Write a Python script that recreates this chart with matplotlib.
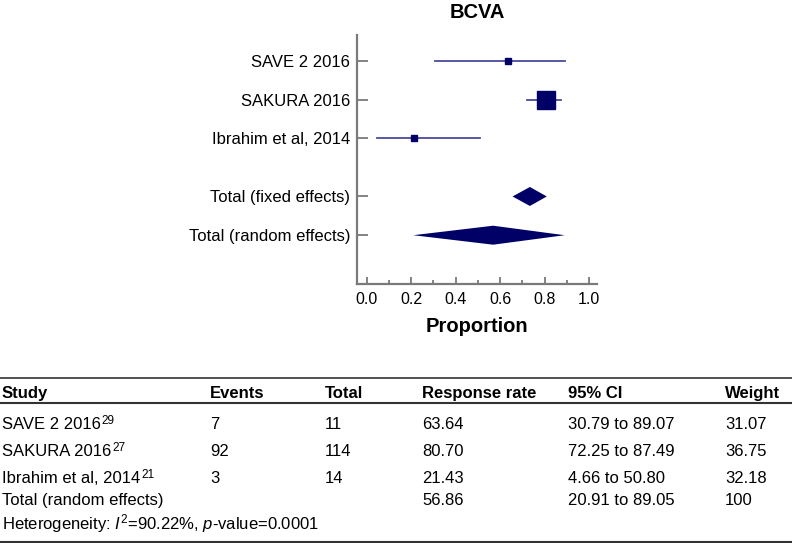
import numpy as np
import matplotlib
matplotlib.use("Agg")
import matplotlib.pyplot as plt
from matplotlib.lines import Line2D

plt.rcParams['font.family'] = ['Liberation Sans', 'DejaVu Sans']
plt.rcParams['mathtext.fontset'] = 'custom'
plt.rcParams['mathtext.rm'] = 'Liberation Sans'
plt.rcParams['mathtext.it'] = 'Liberation Sans:italic'
plt.rcParams['mathtext.bf'] = 'Liberation Sans:bold'

# study data
studies = ['SAVE 2 2016', 'SAKURA 2016', 'Ibrahim et al, 2014']
refs = ['29', '27', '21']
events = [7, 92, 3]
totals = [11, 114, 14]
rate = [63.64, 80.70, 21.43]
ci_low = [30.79, 72.25, 4.66]
ci_high = [89.07, 87.49, 50.80]
weight = [31.07, 36.75, 32.18]

# pooled estimates (proportion)
fixed_est = 0.734
fixed_ci = (0.656, 0.810)
random_est = 56.86
random_ci = (20.91, 89.05)

line_col = '#4b4b9b'
mark_col = '#000066'
spine_col = '#7a7a7a'

fig = plt.figure(figsize=(7.92, 5.43), dpi=100)
ax = fig.add_axes([357/792, 1-284/543, 240/792, 249/543])

ypos = [5.5, 4.5, 3.5]
y_fixed, y_random = 2.0, 1.0
for i in range(len(studies)):
    ax.plot([ci_low[i]/100, ci_high[i]/100], [ypos[i], ypos[i]], color=line_col, lw=1.3, zorder=2)
    ax.plot(rate[i]/100, ypos[i], 's', color=mark_col, ms=1.25*np.sqrt(totals[i]), zorder=3)

h = 0.245
def diamond(est, lo, hi, y):
    ax.fill([lo, est, hi, est], [y, y+h, y, y-h], color=mark_col, lw=0, zorder=3)

diamond(fixed_est, fixed_ci[0], fixed_ci[1], y_fixed)
diamond(random_est/100, random_ci[0]/100, random_ci[1]/100, y_random)

ax.set_xlim(-0.044, 1.036)
ax.set_ylim(-0.26, 6.17)
ax.set_yticks(ypos + [y_fixed, y_random])
ax.set_yticklabels(studies + ['Total (fixed effects)', 'Total (random effects)'], fontsize=12)
ax.set_xticks(np.arange(0, 1.01, 0.2))
ax.set_xticklabels(['%.1f' % v for v in np.arange(0, 1.01, 0.2)], fontsize=11.5)
ax.set_xticks(np.arange(0.1, 1.0, 0.2), minor=True)
ax.tick_params(axis='y', direction='in', length=8, width=1.3, color=spine_col, pad=5)
ax.tick_params(axis='x', which='major', direction='in', length=5, width=1.3, color=spine_col, pad=6)
ax.tick_params(axis='x', which='minor', direction='in', length=3, width=1.3, color=spine_col)
for s in ['top', 'right']:
    ax.spines[s].set_visible(False)
for s in ['left', 'bottom']:
    ax.spines[s].set_color(spine_col)
    ax.spines[s].set_linewidth(1.6)
ax.set_title('BCVA', fontsize=14.5, fontweight='bold', pad=12)
ax.set_xlabel('Proportion', fontsize=14.5, fontweight='bold', labelpad=7)

# table below
def fy(py):
    return 1 - py/543

def cell(x, py, txt, **kw):
    # py is the vertical middle of the row in pixels; place on the baseline
    return fig.text(x/792, fy(py + 6), txt, fontsize=12, va='baseline', ha='left', **kw)

col_x = [2, 210, 325, 422, 568, 725]
headers = ['Study', 'Events', 'Total', 'Response rate', '95% CI', 'Weight']
for x, htxt in zip(col_x, headers):
    cell(x, 392, htxt, fontweight='bold')

row_y = [423, 450, 477]
for i in range(len(studies)):
    cells = [studies[i], str(events[i]), str(totals[i]),
             '%.2f' % rate[i], '%.2f to %.2f' % (ci_low[i], ci_high[i]), '%.2f' % weight[i]]
    for j, (x, c) in enumerate(zip(col_x, cells)):
        t = cell(x, row_y[i], c)
        if j == 0:
            # reference number as a small superscript right after the study name
            ax.annotate(refs[i], xy=(1, 1), xycoords=t, xytext=(0.5, 1.5),
                        textcoords='offset points', fontsize=8.5, va='top', ha='left',
                        annotation_clip=False)

tot_cells = ['Total (random effects)', '', '', '%.2f' % random_est,
             '%.2f to %.2f' % random_ci, '100']
for x, c in zip(col_x, tot_cells):
    cell(x, 499, c)

cell(2, 523, r'Heterogeneity: $\mathit{I}^2$=90.22%, $\mathit{p}$-value=0.0001')

for py, lw in [(378, 1.2), (403, 1.5), (541.5, 1.5)]:
    fig.add_artist(Line2D([0, 1], [fy(py), fy(py)], color='#333333', lw=lw))

fig.savefig('out.png', dpi=100)
